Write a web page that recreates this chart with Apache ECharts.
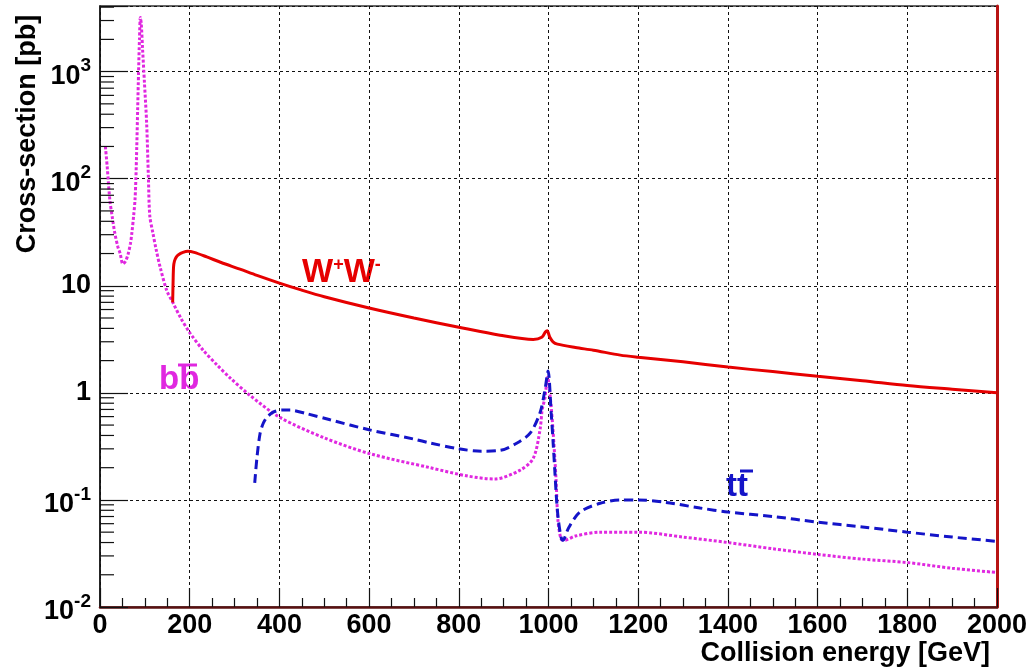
<!DOCTYPE html>
<html>
<head>
<meta charset="utf-8">
<title>Cross-sections vs collision energy</title>
<script src="https://cdn.jsdelivr.net/npm/echarts@6/dist/echarts.min.js"></script>
<style>
  html, body { margin: 0; padding: 0; background: #fff; }
  #chart { width: 1032px; height: 670px; }
</style>
</head>
<body>
<div id="chart"></div>
<script>
// b b-bar production: Z pole, 1/s fall-off, Z' interference near 1 TeV
const bbEnergy = [12, 16, 22, 28, 33, 40, 45, 51, 57, 63, 68, 71, 75, 78, 80, 82, 84, 86, 88, 90, 92, 95, 99, 104, 108, 111, 118, 125, 134, 149, 163, 180, 201, 230, 261, 290, 334, 401, 500, 602, 736, 820, 880, 937, 966, 981, 986, 992, 998, 1004, 1010, 1017, 1021, 1028, 1035, 1060, 1115, 1200, 1300, 1400, 1500, 1600, 1700, 1800, 1900, 2000];
const bbXsec   = [200, 130, 63, 42, 31, 23, 20, 16, 17, 20, 25, 31, 45, 63, 100, 200, 450, 1000, 2000, 3200, 2800, 1600, 800, 330, 100, 45, 31, 22, 15, 9, 6.9, 5, 3.6, 2.5, 1.82, 1.38, 0.95, 0.59, 0.38, 0.27, 0.2, 0.167, 0.157, 0.19, 0.245, 0.45, 0.7, 0.9, 1.4, 0.9, 0.45, 0.15, 0.065, 0.043, 0.042, 0.046, 0.05, 0.05, 0.045, 0.04, 0.035, 0.031, 0.028, 0.026, 0.023, 0.021];

// t t-bar production from threshold
const ttEnergy = [345, 350, 357, 364, 372, 386, 405, 424, 460, 513, 602, 700, 736, 800, 850, 892, 930, 959, 981, 992, 999, 1006, 1010, 1014, 1018, 1022, 1028, 1032, 1045, 1070, 1115, 1160, 1200, 1260, 1338, 1400, 1500, 1600, 1700, 1800, 1900, 2000];
const ttXsec   = [0.144, 0.25, 0.42, 0.52, 0.59, 0.66, 0.69, 0.69, 0.64, 0.56, 0.45, 0.37, 0.34, 0.3, 0.285, 0.29, 0.34, 0.42, 0.65, 1.06, 1.6, 0.65, 0.36, 0.19, 0.1, 0.065, 0.045, 0.042, 0.055, 0.077, 0.093, 0.1, 0.1, 0.095, 0.084, 0.077, 0.07, 0.062, 0.056, 0.05, 0.045, 0.041];

// W+ W- production from threshold
const wwEnergy = [162, 163, 164, 166, 170, 175, 185, 196, 210, 238, 270, 312, 350, 400, 450, 500, 600, 700, 800, 892, 966, 985, 993, 997, 1003, 1010, 1020, 1060, 1100, 1160, 1200, 1300, 1400, 1500, 1600, 1700, 1800, 1900, 2000];
const wwXsec   = [7.0, 11, 15, 17, 18.5, 19.5, 20.5, 21, 20.5, 18.6, 16.5, 14.3, 12.5, 10.6, 9.1, 7.9, 6.2, 5.0, 4.1, 3.45, 3.15, 3.3, 3.7, 3.8, 3.3, 3.0, 2.85, 2.65, 2.5, 2.25, 2.15, 1.95, 1.74, 1.58, 1.43, 1.3, 1.17, 1.08, 1.0];

// axis ranges and tick labels
const energyTicks = [0, 200, 400, 600, 800, 1000, 1200, 1400, 1600, 1800, 2000];
const xsecDecades = [0.01, 0.1, 1, 10, 100, 1000];
const yMin = 0.01, yMax = 4100;

const FONT = 'Liberation Sans';
const RED = '#e60000', MAGENTA = '#e028e0', BLUE = '#1414c8';

function pairs(xs, ys) { return xs.map((x, i) => [x, ys[i]]); }

// minor log ticks: 2..9 within each decade
const minorTickValues = [];
xsecDecades.forEach(d => { for (let k = 2; k <= 9; k++) { const v = d * k; if (v < yMax) minorTickValues.push(v); } });

function yLabel(v) {
  const e = Math.round(Math.log10(v));
  if (Math.abs(Math.log10(v) - e) > 1e-6) return '';
  if (e === 0) return '{b|1}';
  if (e === 1) return '{b|10}';
  return '{p|10}{s|' + e + '}';
}

const chart = echarts.init(document.getElementById('chart'), null, { renderer: 'canvas' });

const gridLine = { show: true, lineStyle: { color: '#111', type: [3, 3], width: 1 } };
const curve = { showSymbol: false, symbol: 'none', smooth: 0.3 };

chart.setOption({
  animation: false,
  backgroundColor: '#fff',
  grid: { left: 100, right: 35, top: 6, bottom: 63, show: true, borderColor: '#333', borderWidth: 1.5, backgroundColor: 'transparent' },
  xAxis: [{
    type: 'value', min: energyTicks[0], max: energyTicks[energyTicks.length - 1], interval: 200,
    axisLine: { show: true, lineStyle: { color: '#5a1010', width: 2.5 } },
    axisTick: { show: true, inside: true, length: 19, lineStyle: { color: '#111', width: 1.2 } },
    minorTick: { show: true, splitNumber: 4, length: 9, lineStyle: { color: '#111', width: 1.2 } },
    splitLine: gridLine,
    axisLabel: {
      fontFamily: FONT, fontWeight: 'bold', fontSize: 27, color: '#000', margin: 5,
      showMinLabel: true, showMaxLabel: true, formatter: v => String(v)
    }
  }],
  yAxis: [{
    type: 'log', logBase: 10, min: yMin, max: yMax,
    axisLine: { show: true, lineStyle: { color: '#111', width: 1.5 } },
    axisTick: { show: true, inside: true, length: 28, lineStyle: { color: '#111', width: 1.2 } },
    splitLine: gridLine,
    axisLabel: {
      margin: 9, formatter: yLabel,
      rich: {
        b: { fontFamily: FONT, fontWeight: 'bold', fontSize: 27, lineHeight: 27, color: '#000' },
        p: { fontFamily: FONT, fontWeight: 'bold', fontSize: 27, lineHeight: 27, color: '#000', padding: [9, 0, 0, 0] },
        s: { fontFamily: FONT, fontWeight: 'bold', fontSize: 19, lineHeight: 19, color: '#000', padding: [3, 0, 14, 0] }
      }
    }
  }, {
    type: 'log', logBase: 10, min: yMin, max: yMax, position: 'right',
    axisLine: { show: true, lineStyle: { color: '#b81414', width: 3 } },
    axisTick: { show: false }, axisLabel: { show: false }, splitLine: { show: false }
  }],
  series: [
    Object.assign({
      type: 'line', name: 'bb', data: pairs(bbEnergy, bbXsec),
      lineStyle: { color: MAGENTA, width: 3, type: [3, 2] }, z: 2
    }, curve),
    Object.assign({
      type: 'line', name: 'tt', data: pairs(ttEnergy, ttXsec),
      lineStyle: { color: BLUE, width: 3, type: [9, 5] }, z: 3
    }, curve),
    Object.assign({
      type: 'line', name: 'WW', data: pairs(wwEnergy, wwXsec),
      lineStyle: { color: RED, width: 3 }, z: 4
    }, curve),
    {
      // minor ticks of the logarithmic cross-section axis
      type: 'custom', name: 'minor', data: minorTickValues.map(v => [energyTicks[0], v]), clip: false, silent: true, z: 5,
      renderItem: (params, api) => {
        const p = api.coord([api.value(0), api.value(1)]);
        return { type: 'line', shape: { x1: p[0], y1: p[1], x2: p[0] + 14, y2: p[1] }, style: { stroke: '#111', lineWidth: 1.2 } };
      }
    }
  ],
  graphic: [
    {
      type: 'text', x: 28, y: 134, rotation: Math.PI / 2,
      style: { text: 'Cross-section [pb]', font: 'bold 27px ' + FONT, fill: '#000', align: 'center', verticalAlign: 'middle' }
    },
    {
      type: 'text', x: 990, y: 654,
      style: { text: 'Collision energy [GeV]', font: 'bold 27px ' + FONT, fill: '#000', align: 'right', verticalAlign: 'middle' }
    },
    {
      type: 'text', x: 302, y: 273,
      style: {
        text: '{w|W}{s|+}{w|W}{s|-}', align: 'left', verticalAlign: 'middle',
        rich: {
          w: { font: 'bold 33px ' + FONT, fill: RED, lineHeight: 33 },
          s: { font: 'bold 18px ' + FONT, fill: RED, lineHeight: 18, padding: [0, 0, 15, 0] }
        }
      }
    },
    {
      type: 'group', x: 159, y: 380,
      children: [
        { type: 'text', x: 0, y: 0, style: { text: 'bb', font: 'bold 33px ' + FONT, fill: MAGENTA, align: 'left', verticalAlign: 'middle' } },
        { type: 'line', shape: { x1: 19, y1: -15, x2: 38, y2: -15 }, style: { stroke: MAGENTA, lineWidth: 3 } }
      ]
    },
    {
      type: 'group', x: 726, y: 487,
      children: [
        { type: 'text', x: 0, y: 0, style: { text: 'tt', font: 'bold 33px ' + FONT, fill: BLUE, align: 'left', verticalAlign: 'middle' } },
        { type: 'line', shape: { x1: 14, y1: -16, x2: 27, y2: -16 }, style: { stroke: BLUE, lineWidth: 3 } }
      ]
    }
  ]
});
</script>
</body>
</html>
